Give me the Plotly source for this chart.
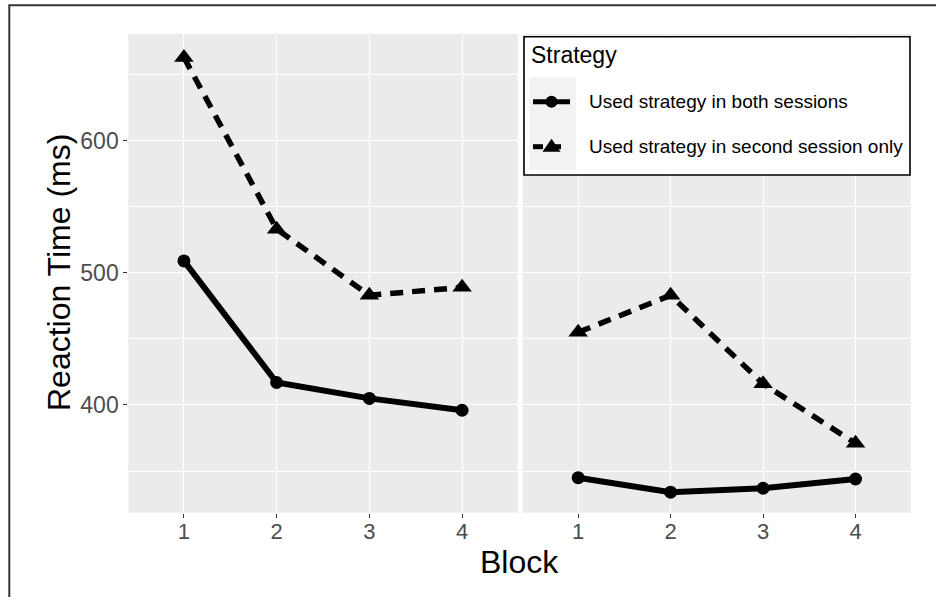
import plotly.graph_objects as go

# Reaction time per block, by strategy group, for the two sessions
blocks = [1, 2, 3, 4]
both_session1 = [509, 417, 405, 396]
second_session1 = [663, 533, 483, 489]
both_session2 = [345, 334, 337, 344]
second_session2 = [455, 483, 416, 371]

group_labels = ["Used strategy in both sessions", "Used strategy in second session only"]
legend_title = "Strategy"
y_ticks = [400, 500, 600]
y_minor = [350, 450, 550, 650]

W, H = 936, 597
FONT = "Liberation Sans, Arial, sans-serif"
PANEL_BG = "#EBEBEB"


def px(x):
    return x / W


def py(y):
    return 1 - y / H


fig = go.Figure()

solid = dict(color="black", width=6)
dashed = dict(color="black", width=5.5, dash="13px,9px")
circle = dict(symbol="circle", size=13, color="black")
triangle = dict(symbol="triangle-up", size=17, color="black")

for xa, ya, both, second in [("x", "y", both_session1, second_session1),
                              ("x2", "y2", both_session2, second_session2)]:
    fig.add_trace(go.Scatter(x=blocks, y=second, mode="lines+markers", line=dashed,
                             marker=triangle, xaxis=xa, yaxis=ya, showlegend=False))
    fig.add_trace(go.Scatter(x=blocks, y=both, mode="lines+markers", line=solid,
                             marker=circle, xaxis=xa, yaxis=ya, showlegend=False))

x_dom1 = [px(128.3), px(517.7)]
x_dom2 = [px(522.7), px(911)]
y_dom = [py(512.7), py(34)]
y_range = [318.5, 680.7]

xcommon = dict(range=[0.4, 4.6], tickvals=blocks, showgrid=True, gridcolor="white",
               gridwidth=1.3, zeroline=False, showline=False, ticks="outside",
               ticklen=4, tickwidth=1, tickcolor="#333333", ticklabelstandoff=-5,
               tickfont=dict(family=FONT, size=22, color="#4D4D4D"))
ycommon = dict(range=y_range, tickvals=y_ticks, showgrid=True, gridcolor="white",
               gridwidth=1.3, zeroline=False, showline=False,
               minor=dict(tickvals=y_minor, showgrid=True, gridcolor="white",
                          gridwidth=0.6, ticks=""))

fig.update_layout(
    width=W, height=H, margin=dict(l=0, r=0, t=0, b=0),
    paper_bgcolor="white", plot_bgcolor=PANEL_BG,
    xaxis=dict(domain=x_dom1, anchor="y", **xcommon),
    xaxis2=dict(domain=x_dom2, anchor="y2", **xcommon),
    yaxis=dict(domain=y_dom, anchor="x", ticks="outside", ticklen=4, tickwidth=1,
               tickcolor="#333333",
               tickfont=dict(family=FONT, size=23, color="#4D4D4D"), **ycommon),
    yaxis2=dict(domain=y_dom, anchor="x2", matches="y", showticklabels=False,
                ticks="", **ycommon),
)

shapes = []
annotations = []

# outer frame
shapes.append(dict(type="rect", xref="paper", yref="paper",
                   x0=px(9.3), x1=px(960), y0=py(5.3), y1=py(620),
                   line=dict(color="#333333", width=2), fillcolor="rgba(0,0,0,0)", layer="above"))

# legend box
shapes.append(dict(type="rect", xref="paper", yref="paper",
                   x0=px(524), x1=px(910), y0=py(175), y1=py(36.7),
                   line=dict(color="black", width=1.6), fillcolor="white", layer="above"))
shapes.append(dict(type="rect", xref="paper", yref="paper",
                   x0=px(529.3), x1=px(576), y0=py(170), y1=py(77.3),
                   line=dict(width=0), fillcolor="#F2F2F2", layer="above"))

# legend key: solid line with circle
k1 = 101.7
shapes.append(dict(type="line", xref="paper", yref="paper",
                   x0=px(533), x1=px(570), y0=py(k1), y1=py(k1),
                   line=dict(color="black", width=5), layer="above"))
shapes.append(dict(type="circle", xref="paper", yref="paper",
                   x0=px(545.5), x1=px(557.5), y0=py(k1 + 6), y1=py(k1 - 6),
                   line=dict(width=0), fillcolor="black", layer="above"))

# legend key: dashed line with triangle
k2 = 146.7
shapes.append(dict(type="line", xref="paper", yref="paper",
                   x0=px(533), x1=px(543), y0=py(k2), y1=py(k2),
                   line=dict(color="black", width=5), layer="above"))
shapes.append(dict(type="line", xref="paper", yref="paper",
                   x0=px(552), x1=px(561), y0=py(k2), y1=py(k2),
                   line=dict(color="black", width=5), layer="above"))
tri = "M {} {} L {} {} L {} {} Z".format(px(542.5), py(k2 + 5), px(560.5), py(k2 + 5),
                                          px(551.5), py(k2 - 8))
shapes.append(dict(type="path", xref="paper", yref="paper", path=tri,
                   line=dict(width=0), fillcolor="black", layer="above"))

annotations.append(dict(text=legend_title, xref="paper", yref="paper", x=px(529), y=py(55),
                        xanchor="left", yanchor="middle", showarrow=False,
                        font=dict(family=FONT, size=23, color="black")))
for label, yk in zip(group_labels, [k1, k2]):
    annotations.append(dict(text=label, xref="paper", yref="paper", x=px(587), y=py(yk),
                            xanchor="left", yanchor="middle", showarrow=False,
                            font=dict(family=FONT, size=19, color="black")))

# axis titles
annotations.append(dict(text="Reaction Time (ms)", xref="paper", yref="paper",
                        x=px(59), y=py(273), textangle=-90, xanchor="center",
                        yanchor="middle", showarrow=False,
                        font=dict(family=FONT, size=32, color="black")))
annotations.append(dict(text="Block", xref="paper", yref="paper",
                        x=px(519.7), y=py(562), xanchor="center", yanchor="middle",
                        showarrow=False, font=dict(family=FONT, size=32, color="black")))

fig.update_layout(shapes=shapes, annotations=annotations)

fig.write_html("out.html")
